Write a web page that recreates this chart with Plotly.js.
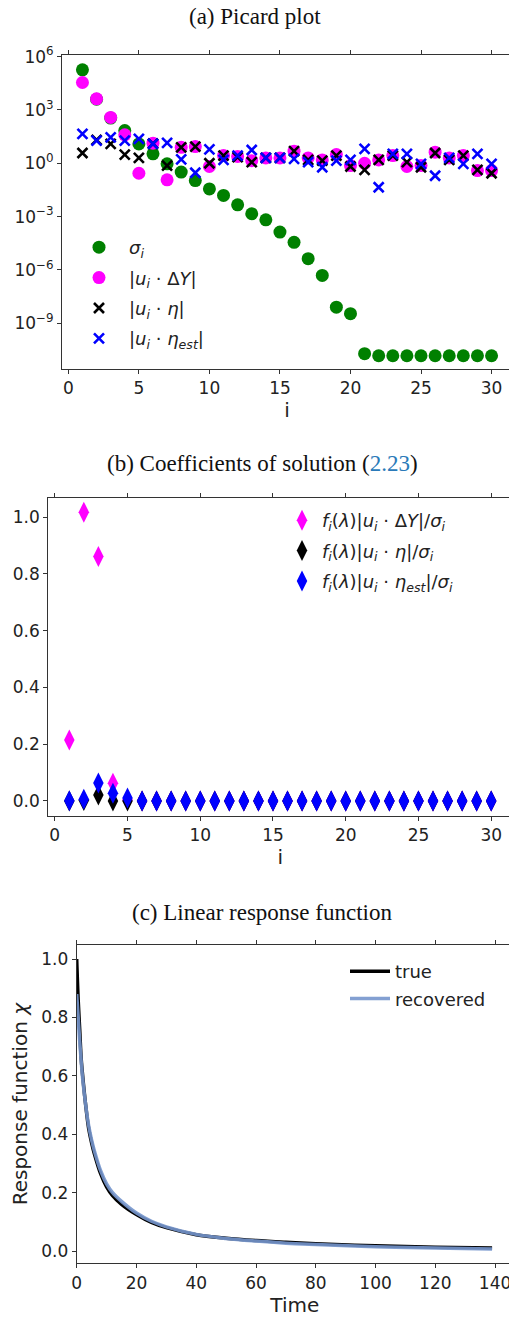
<!DOCTYPE html>
<html>
<head>
<meta charset="utf-8">
<script src="https://cdn.plot.ly/plotly-3.0.1.min.js"></script>
<style>
  html, body { margin: 0; padding: 0; background: #fff; overflow: hidden; }
  #fig { width: 520px; height: 1317px; }
</style>
</head>
<body>
<div id="fig"></div>
<script>
// ---- (a) Picard plot: index and coefficient magnitudes ----
const idx = [1,2,3,4,5,6,7,8,9,10,11,12,13,14,15,16,17,18,19,20,21,22,23,24,25,26,27,28,29,30];
const sigma = [1.8e5, 4.0e3, 3.5e2, 69, 12.3, 3.4, 0.93, 0.32, 0.107, 0.036,
               0.0155, 4.6e-3, 1.45e-3, 6.6e-4, 1.35e-4, 3.6e-5, 4.3e-6, 4.9e-7, 8.1e-9, 3.5e-9,
               1.95e-11, 1.5e-11, 1.5e-11, 1.5e-11, 1.5e-11, 1.5e-11, 1.5e-11, 1.5e-11, 1.5e-11, 1.5e-11];
const uDeltaY = [3.5e4, 4.2e3, 380, 40, 0.275, 13.5, 0.117, 7.9, 8.7, 0.66,
                 2.7, 2.4, 1.41, 2.0, 2.0, 4.8, 2.0, 1.55, 3.1, 0.74,
                 1.0, 1.55, 2.7, 0.66, 0.74, 4.2, 2.0, 2.7, 0.39, 0.39];
const uEta = [3.8, 20.4, 12.3, 3.1, 2.0, 12.6, 0.74, 7.9, 8.7, 1.0,
              2.7, 2.2, 1.15, 2.0, 2.0, 4.8, 1.55, 1.41, 2.7, 0.66,
              0.43, 1.55, 2.7, 1.15, 0.6, 3.8, 1.55, 2.7, 0.43, 0.275];
const uEtaEst = [44.7, 19, 28.8, 19, 23.4, 12.6, 14.1, 1.66, 0.295, 6.0,
                 1.55, 2.7, 5.6, 2.0, 2.0, 1.78, 1.15, 0.6, 1.41, 1.55,
                 6.5, 0.045, 3.4, 3.4, 0.93, 0.2, 2.0, 0.93, 3.4, 0.93];
const logTickVals = [1e-9, 1e-6, 1e-3, 1, 1e3, 1e6];
const logTickText = ['10<sup>−9</sup>', '10<sup>−6</sup>', '10<sup>−3</sup>', '10<sup>0</sup>', '10<sup>3</sup>', '10<sup>6</sup>'];

// ---- (b) Coefficients of solution ----
const coefDeltaY = [0.215, 1.017, 0.861, 0.062, 0.003, 0, 0, 0, 0, 0, 0, 0, 0, 0, 0, 0, 0, 0, 0, 0, 0, 0, 0, 0, 0, 0, 0, 0, 0, 0];
const coefEta    = [0, 0.002, 0.021, 0, 0, 0, 0, 0, 0, 0, 0, 0, 0, 0, 0, 0, 0, 0, 0, 0, 0, 0, 0, 0, 0, 0, 0, 0, 0, 0];
const coefEtaEst = [0.001, 0.006, 0.063, 0.027, 0.01, 0, 0, 0, 0, 0, 0, 0, 0, 0, 0, 0, 0, 0, 0, 0, 0, 0, 0, 0, 0, 0, 0, 0, 0, 0];

// ---- (c) Linear response function ----
const time = [0, 0.5, 1, 1.5, 2, 3, 4, 5, 6, 8, 10, 12, 15, 20, 25, 30, 40, 50, 60, 70, 80, 100, 120, 139];
const chiTrue = [1.0, 0.86, 0.76, 0.66, 0.60, 0.50, 0.42, 0.37, 0.33, 0.265, 0.22, 0.19, 0.16, 0.125,
                 0.098, 0.08, 0.056, 0.044, 0.036, 0.030, 0.025, 0.018, 0.013, 0.010];
const chiRecovered = [0.88, 0.80, 0.72, 0.65, 0.59, 0.50, 0.43, 0.38, 0.34, 0.275, 0.23, 0.20, 0.17, 0.13,
                      0.102, 0.083, 0.057, 0.043, 0.034, 0.027, 0.022, 0.015, 0.010, 0.007];

const W = 520, H = 1317;
const px = v => v / W;          // horizontal pixel -> paper
const py = v => 1 - v / H;      // vertical pixel -> paper

const tickFont = {family: 'DejaVu Sans', size: 17, color: '#222'};
const axisBase = {
  showline: true, linecolor: '#333', linewidth: 1, mirror: 'ticks',
  ticks: 'outside', ticklen: 4, tickwidth: 1, tickcolor: '#333',
  showgrid: false, zeroline: false, tickfont: tickFont, automargin: false
};
const axTitleFont = {family: 'DejaVu Sans', size: 20, color: '#222'};
const legFont = {family: 'DejaVu Sans', size: 18, color: '#222'};

const traces = [
  // (a)
  {x: idx, y: sigma, type: 'scatter', mode: 'markers', xaxis: 'x', yaxis: 'y',
   name: '<i>σ</i><sub><i>i</i></sub>', legend: 'legend', legendgroup: 'a1',
   marker: {symbol: 'circle', size: 13, color: 'green'}},
  {x: idx, y: uDeltaY, type: 'scatter', mode: 'markers', xaxis: 'x', yaxis: 'y',
   name: '|<i>u</i><sub><i>i</i></sub> · Δ<i>Y</i>|', legend: 'legend', legendgroup: 'a2',
   marker: {symbol: 'circle', size: 13, color: 'magenta'}},
  {x: idx, y: uEta, type: 'scatter', mode: 'markers', xaxis: 'x', yaxis: 'y',
   name: '|<i>u</i><sub><i>i</i></sub> · <i>η</i>|', legend: 'legend', legendgroup: 'a3',
   marker: {symbol: 'x-thin', size: 10, color: 'black', line: {width: 2.6, color: 'black'}}},
  {x: idx, y: uEtaEst, type: 'scatter', mode: 'markers', xaxis: 'x', yaxis: 'y',
   name: '|<i>u</i><sub><i>i</i></sub> · <i>η</i><sub><i>est</i></sub>|', legend: 'legend', legendgroup: 'a4',
   marker: {symbol: 'x-thin', size: 10, color: 'blue', line: {width: 2.6, color: 'blue'}}},
  // (b)
  {x: idx, y: coefDeltaY, type: 'scatter', mode: 'markers', xaxis: 'x2', yaxis: 'y2',
   name: '<i>f</i><sub><i>i</i></sub>(<i>λ</i>)|<i>u</i><sub><i>i</i></sub> · Δ<i>Y</i>|/<i>σ</i><sub><i>i</i></sub>',
   legend: 'legend2', legendgroup: 'b1',
   marker: {symbol: 'diamond-tall', size: 15, color: 'magenta', line: {width: 0}}},
  {x: idx, y: coefEta, type: 'scatter', mode: 'markers', xaxis: 'x2', yaxis: 'y2',
   name: '<i>f</i><sub><i>i</i></sub>(<i>λ</i>)|<i>u</i><sub><i>i</i></sub> · <i>η</i>|/<i>σ</i><sub><i>i</i></sub>',
   legend: 'legend2', legendgroup: 'b2',
   marker: {symbol: 'diamond-tall', size: 15, color: 'black', line: {width: 0}}},
  {x: idx, y: coefEtaEst, type: 'scatter', mode: 'markers', xaxis: 'x2', yaxis: 'y2',
   name: '<i>f</i><sub><i>i</i></sub>(<i>λ</i>)|<i>u</i><sub><i>i</i></sub> · <i>η</i><sub><i>est</i></sub>|/<i>σ</i><sub><i>i</i></sub>',
   legend: 'legend2', legendgroup: 'b3',
   marker: {symbol: 'diamond-tall', size: 15, color: 'blue', line: {width: 0}}},
  // (c)
  {x: time, y: chiTrue, type: 'scatter', mode: 'lines', xaxis: 'x3', yaxis: 'y3',
   name: 'true', legend: 'legend3', legendgroup: 'c1',
   line: {color: 'black', width: 3.5, shape: 'spline'}},
  {x: time, y: chiRecovered, type: 'scatter', mode: 'lines', xaxis: 'x3', yaxis: 'y3',
   name: 'recovered', legend: 'legend3', legendgroup: 'c2', opacity: 0.9,
   line: {color: 'rgb(117,150,205)', width: 3.5, shape: 'spline'}}
];

const titleFont = {family: 'Liberation Serif', size: 23, color: '#111'};

const layout = {
  width: W, height: H,
  margin: {l: 0, r: 0, t: 0, b: 0},
  paper_bgcolor: '#fff', plot_bgcolor: '#fff',
  showlegend: true,
  xaxis: Object.assign({}, axisBase, {
    domain: [px(62), px(512)], range: [-0.45, 31.45], tickvals: [0, 5, 10, 15, 20, 25, 30],
    anchor: 'y', title: {text: 'i', font: axTitleFont, standoff: 0}}),
  yaxis: Object.assign({}, axisBase, {
    domain: [py(369), py(55)], type: 'log', range: [-11.57, 6.09],
    tickvals: logTickVals, ticktext: logTickText, anchor: 'x'}),
  xaxis2: Object.assign({}, axisBase, {
    domain: [px(48.2), px(512.3)], range: [-0.45, 31.45], tickvals: [0, 5, 10, 15, 20, 25, 30],
    anchor: 'y2', title: {text: 'i', font: axTitleFont, standoff: 0}}),
  yaxis2: Object.assign({}, axisBase, {
    domain: [py(816), py(498.3)], range: [-0.053, 1.066],
    tickvals: [0, 0.2, 0.4, 0.6, 0.8, 1.0], tickformat: '.1f', anchor: 'x2'}),
  xaxis3: Object.assign({}, axisBase, {
    domain: [px(76.7), px(513)], range: [0, 146], tickvals: [0, 20, 40, 60, 80, 100, 120, 140],
    anchor: 'y3', title: {text: 'Time', font: axTitleFont, standoff: 2}}),
  yaxis3: Object.assign({}, axisBase, {
    domain: [py(1263.3), py(945)], range: [-0.042, 1.048],
    tickvals: [0, 0.2, 0.4, 0.6, 0.8, 1.0], tickformat: '.1f', anchor: 'x3',
    title: {text: 'Response function <i>χ</i>', font: axTitleFont, standoff: 8}}),
  legend: {x: px(69), y: py(229), xanchor: 'left', yanchor: 'top', bgcolor: 'rgba(0,0,0,0)',
           font: legFont, tracegroupgap: 4, traceorder: 'grouped', itemwidth: 50},
  legend2: {x: px(282), y: py(502), xanchor: 'left', yanchor: 'top', bgcolor: 'rgba(0,0,0,0)',
            font: legFont, tracegroupgap: 4, traceorder: 'grouped'},
  legend3: {x: px(345), y: py(953), xanchor: 'left', yanchor: 'top', bgcolor: 'rgba(0,0,0,0)',
            font: legFont, tracegroupgap: 1, traceorder: 'grouped', itemwidth: 40},
  annotations: [
    {text: '(a) Picard plot', xref: 'paper', yref: 'paper', x: px(254.5), y: py(17),
     xanchor: 'center', yanchor: 'middle', showarrow: false, font: titleFont},
    {text: '(b) Coefficients of solution (<span style="color:#2a7ab9">2.23</span>)', xref: 'paper', yref: 'paper',
     x: px(262), y: py(463), xanchor: 'center', yanchor: 'middle', showarrow: false, font: titleFont},
    {text: '(c) Linear response function', xref: 'paper', yref: 'paper', x: px(261.5), y: py(912),
     xanchor: 'center', yanchor: 'middle', showarrow: false, font: titleFont}
  ]
};

Plotly.newPlot('fig', traces, layout, {staticPlot: true, displayModeBar: false});
</script>
</body>
</html>
